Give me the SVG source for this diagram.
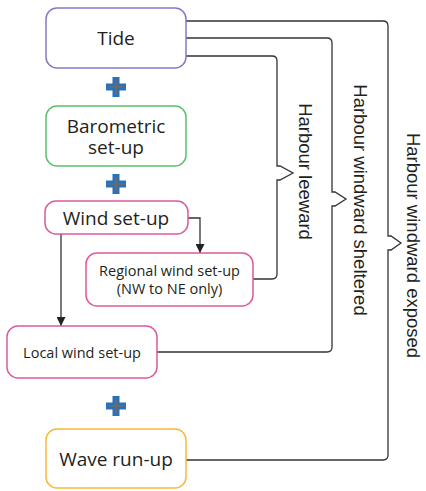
<svg xmlns="http://www.w3.org/2000/svg" width="426" height="491" viewBox="0 0 426 491">
<defs>
<style>
.box{fill:#fff;stroke-width:1.5}
.lbl{font-family:"Open Sans","Noto Sans","Liberation Sans",sans-serif;fill:#231f20;text-anchor:middle}
.side{font-family:"Liberation Sans",Arial,sans-serif;fill:#231f20;text-anchor:middle;font-size:18.5px;dominant-baseline:central}
.con{fill:none;stroke:#333;stroke-width:1.3}
.pb{fill:#2a72b8}
.pg{stroke:#6a6a6a;stroke-width:2;fill:none}
</style>
<marker id="ah" viewBox="0 0 10 10" refX="10" refY="5" markerWidth="9" markerHeight="9" markerUnits="userSpaceOnUse" orient="auto">
<path d="M0,0 L10,5 L0,10 z" fill="#222"/>
</marker>
<g id="plus">
<path class="pb" d="M-3.5,-10 H3.5 V-3.5 H10 V3.5 H3.5 V10 H-3.5 V3.5 H-10 V-3.5 H-3.5 z"/>
<path class="pg" d="M0,-7 V7 M-7,0 H7"/>
</g>
</defs>
<rect width="426" height="491" fill="#fff"/>

<g id="connectors">
<path class="con" d="M186,21 H383 Q388,21 388,26 V236 L391,236 L401,243 L391,250 L388,250 V455 Q388,460 383,460 H186"/>
<path class="con" d="M186,38 H327 Q332,38 332,43 V192 L335,192 L346,199 L335,206 L332,206 V347 Q332,352 327,352 H157"/>
<path class="con" d="M186,56 H272 Q277,56 277,61 V166 L280,166 L293,173 L280,180 L277,180 V274 Q277,279 272,279 H253"/>
<path class="con" d="M188,218 H200 V253" marker-end="url(#ah)"/>
<path class="con" d="M61,234 V326" marker-end="url(#ah)"/>
</g>

<g id="tide">
<rect class="box" x="46" y="8" width="140" height="60" rx="11" stroke="#8878c4"/>
<text class="lbl" x="116" y="45" font-size="19">Tide</text>
</g>
<use id="plus1" href="#plus" x="116" y="87"/>
<g id="barometric">
<rect class="box" x="46" y="106" width="140" height="60" rx="11" stroke="#5cbf6a"/>
<text class="lbl" x="116" y="133" font-size="19">Barometric</text>
<text class="lbl" x="116" y="154" font-size="19">set-up</text>
</g>
<use id="plus2" href="#plus" x="116" y="184"/>
<g id="wind">
<rect class="box" x="45" y="201" width="143" height="33" rx="11" stroke="#dc5aa0"/>
<text class="lbl" x="116" y="225" font-size="19">Wind set-up</text>
</g>
<g id="regional">
<rect class="box" x="86" y="253" width="167" height="53" rx="11" stroke="#dc5aa0"/>
<text class="lbl" x="169.5" y="276" font-size="14.5">Regional wind set-up</text>
<text class="lbl" x="169.5" y="294" font-size="14.5">(NW to NE only)</text>
</g>
<g id="local">
<rect class="box" x="7" y="326" width="150" height="52" rx="11" stroke="#dc5aa0"/>
<text class="lbl" x="82" y="358" font-size="14.5">Local wind set-up</text>
</g>
<use id="plus3" href="#plus" x="116" y="406"/>
<g id="wave">
<rect class="box" x="46" y="429" width="140" height="59" rx="11" stroke="#f9b83a"/>
<text class="lbl" x="116" y="466" font-size="19">Wave run-up</text>
</g>

<g id="labels">
<text class="side" transform="translate(305,171.5) rotate(90)">Harbour leeward</text>
<text class="side" transform="translate(360,200) rotate(90)">Harbour windward sheltered</text>
<text class="side" transform="translate(413,245.5) rotate(90)">Harbour windward exposed</text>
</g>
</svg>
